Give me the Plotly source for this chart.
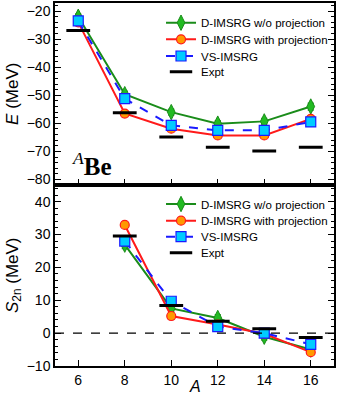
import plotly.graph_objects as go
from plotly.subplots import make_subplots

A = [6, 8, 10, 12, 14, 16]
A_s2n = [8, 10, 12, 14, 16]

E_wo = [-22.0, -49.6, -56.0, -60.1, -59.3, -54.0]
E_with = [-24.0, -56.5, -61.9, -64.3, -64.3, -58.4]
E_vs = [-23.5, -51.2, -60.7, -62.5, -62.5, -59.5]
E_expt = [-26.9, -56.2, -64.9, -68.5, -69.9, -68.5]

S_wo = [26.9, 7.5, 4.6, -1.1, -5.0]
S_with = [32.9, 5.2, 2.6, -0.2, -5.8]
S_vs = [28.0, 9.7, 2.0, 0.0, -3.4]
S_expt = [29.5, 8.4, 3.6, 1.3, -1.3]

err_wo_E = [1.0, 1.0, 1.0, 1.0, 1.0, 1.2]
err_wo_S = [1.2, 1.0, 1.0, 1.0, 1.0]

names = ["D-IMSRG w/o projection", "D-IMSRG with projection", "VS-IMSRG", "Expt"]

GREEN = "#1a8c1a"
RED = "#ff1a1a"
ORANGE = "#ff9900"
BLUE = "#1a1aff"
CYAN = "#00ccff"
FONT = "Liberation Sans, Arial, sans-serif"

W, H = 349, 394
ML, MR, MT, MB = 55, 15, 3, 28
PLOT_H = H - MT - MB

fig = make_subplots(rows=2, cols=1, shared_xaxes=True, vertical_spacing=0)


def add_set(row, x, wo, withp, vs, expt, err, legends):
    fig.add_trace(go.Scatter(
        x=x, y=wo, name=names[0], mode="lines+markers",
        line=dict(color=GREEN, width=2),
        marker=dict(symbol="diamond-tall", size=11, color="#22bb22", line=dict(color=GREEN, width=1)),
        error_y=dict(type="data", array=err, color=GREEN, thickness=1.5, width=3),
        legend=legends[0]), row=row, col=1)
    fig.add_trace(go.Scatter(
        x=x, y=withp, name=names[1], mode="lines+markers",
        line=dict(color=RED, width=2),
        marker=dict(symbol="circle", size=9, color=ORANGE, line=dict(color=RED, width=1.2)),
        error_y=dict(type="data", array=[0.6] * len(x), color=RED, thickness=1.2, width=3),
        legend=legends[1]), row=row, col=1)
    fig.add_trace(go.Scatter(
        x=x, y=vs, name=names[2], mode="lines+markers",
        line=dict(color=BLUE, width=2, dash="dash"),
        marker=dict(symbol="square", size=10, color=CYAN, line=dict(color=BLUE, width=1.2)),
        error_y=dict(type="data", array=[0.6] * len(x), color=BLUE, thickness=1.2, width=3),
        legend=legends[2]), row=row, col=1)
    fig.add_trace(go.Scatter(
        x=x, y=expt, name=names[3], mode="markers",
        marker=dict(symbol="line-ew", size=17, line=dict(color="black", width=3)),
        legend=legends[3]), row=row, col=1)


top_leg = ["legend", "legend2", "legend3", "legend4"]
bot_leg = ["legend5", "legend6", "legend7", "legend8"]
add_set(1, A, E_wo, E_with, E_vs, E_expt, err_wo_E, top_leg)
add_set(2, A_s2n, S_wo, S_with, S_vs, S_expt, err_wo_S, bot_leg)

fig.add_hline(y=0, line=dict(color="black", width=1.2, dash="dash"), row=2, col=1)

fig.add_annotation(
    x=6.58, y=-74.6, xref="x", yref="y", showarrow=False,
    text="<sup><i>A</i></sup><b>Be</b>",
    font=dict(family="Liberation Serif, Times New Roman, serif", size=25, color="black"))

fig.add_annotation(
    x=0.5, y=0, xref="paper", yref="paper", xanchor="center", yanchor="top", yshift=-10,
    showarrow=False, text="<i>A</i>",
    font=dict(family=FONT, size=16, color="black"))

axis_common = dict(showline=True, linecolor="black", linewidth=1.5, ticks="inside",
                   tickcolor="black", tickwidth=1.2, ticklen=6, showgrid=False,
                   zeroline=False, automargin=False,
                   tickfont=dict(family=FONT, size=14, color="black"))

fig.update_xaxes(range=[5, 17], tickvals=[6, 8, 10, 12, 14, 16], mirror=True, **axis_common)
fig.update_xaxes(showticklabels=False, row=1, col=1)

fig.update_yaxes(mirror="ticks", **axis_common)
fig.update_yaxes(range=[-81.8, -17.1], dtick=10, tick0=-80,
                 minor=dict(ticks="inside", dtick=2, ticklen=3, tickcolor="black"),
                 title=dict(text="<i>E</i> (MeV)", font=dict(family=FONT, size=17, color="black"), standoff=4),
                 row=1, col=1)
fig.update_yaxes(range=[-10, 45.2], dtick=10, tick0=-10,
                 minor=dict(ticks="inside", dtick=2, ticklen=3, tickcolor="black"),
                 title=dict(text="<i>S</i><sub>2n</sub> (MeV)", font=dict(family=FONT, size=17, color="black"), standoff=4),
                 row=2, col=1)

legend_style = dict(font=dict(family=FONT, size=11.5, color="black"), bgcolor="rgba(0,0,0,0)",
                    tracegroupgap=0, itemwidth=30, xanchor="left", yanchor="middle")
leg_x = 0.38
leg_rows_px = [22.7, 39.3, 56, 71.7, 204, 220.7, 236.7, 252.7]
legends = {}
for key, ypx in zip(top_leg + bot_leg, leg_rows_px):
    legends[key] = dict(x=leg_x, y=(H - MB - ypx) / PLOT_H, **legend_style)

fig.update_layout(
    width=W, height=H,
    margin=dict(l=ML, r=MR, t=MT, b=MB),
    paper_bgcolor="white", plot_bgcolor="white",
    showlegend=True,
    hovermode=False,
    **legends,
)

fig.write_html("out.html", config={"displayModeBar": False},
               post_script="document.body.style.margin='0';")
